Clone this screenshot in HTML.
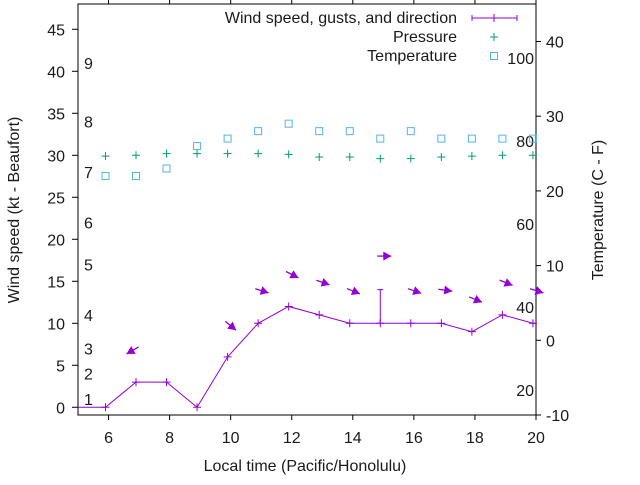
<!DOCTYPE html>
<html><head><meta charset="utf-8"><style>
body{margin:0;background:#fff}
svg text{font-family:"Liberation Sans",sans-serif;font-size:16px;fill:#1a1a1a}
</style></head><body>
<svg id="c" width="640" height="480" xmlns="http://www.w3.org/2000/svg"></svg>
<script>
const hours=[5.9,6.9,7.9,8.9,9.9,10.9,11.9,12.9,13.9,14.9,15.9,16.9,17.9,18.9,19.9];
const windKt=[0,3,3,0,6,10,12,11,10,10,10,10,9,11,10];
const gustKt=[null,null,null,null,null,null,null,null,null,14,null,null,null,null,null];
const windFrom=[null,60,null,null,309,287,297,289,292,270,289,278,292,292,287];
const pressure=[29.9,30.0,30.2,30.2,30.2,30.2,30.1,29.8,29.8,29.6,29.6,29.8,29.9,30.0,30.0];
const tempC=[22,22,23,26,27,28,29,28,28,27,28,27,27,27,27];
const xTicks=[6,8,10,12,14,16,18,20];
const yTicks=[0,5,10,15,20,25,30,35,40,45];
const y2Ticks=[-10,0,10,20,30,40];
const beaufortLabels=[1,2,3,4,5,6,7,8,9];
const beaufortKt=[1,4,7,11,17,22,28,34,41];
const fLabels=[20,40,60,80,100];

const L=78,R=536,T=4,B=415;
const X=h=>L+(h-5)/15*(R-L);
const Y=k=>B-(k+0.92)*8.4;
const Y2=c=>B-(c+10)*7.47;
const svg=document.getElementById('c');
const NS='http://www.w3.org/2000/svg';
function mk(tag,attrs,txt){const e=document.createElementNS(NS,tag);for(const k in attrs)e.setAttribute(k,attrs[k]);if(txt!==undefined)e.textContent=txt;svg.appendChild(e);return e;}

let e;
e=mk('rect',{x:L,y:T,width:R-L,height:B-T,fill:'none',stroke:'#000','stroke-width':1});

xTicks.forEach(t=>{
  e=mk('line',{x1:X(t),x2:X(t),y1:B,y2:B+5,stroke:'#000'});
  
  e=mk('line',{x1:X(t),x2:X(t),y1:T,y2:T-5,stroke:'#000'});
  
  e=mk('text',{x:X(t),y:443,'text-anchor':'middle'},t);
  
});
yTicks.forEach(t=>{
  e=mk('line',{x1:L-6,x2:L,y1:Y(t),y2:Y(t),stroke:'#000'});
  
  e=mk('text',{x:65,y:Y(t)+6,'text-anchor':'end'},t);
  
});
y2Ticks.forEach(t=>{
  e=mk('line',{x1:R,x2:R+5,y1:Y2(t),y2:Y2(t),stroke:'#000'});
  
  e=mk('text',{x:546,y:Y2(t)+6},t);
  
});
beaufortLabels.forEach((b,i)=>{
  e=mk('text',{x:84,y:Y(beaufortKt[i])+6},b);
  
});
fLabels.forEach(f=>{
  e=mk('text',{x:534,y:Y2((f-32)*5/9)+6,'text-anchor':'end'},f);
  
});
e=mk('text',{x:305,y:471,'text-anchor':'middle'},'Local time (Pacific/Honolulu)');

e=mk('text',{x:0,y:0,'text-anchor':'middle',transform:'translate(19,210) rotate(-90)'},'Wind speed (kt - Beaufort)');

e=mk('text',{x:0,y:0,'text-anchor':'middle',transform:'translate(603,210) rotate(-90)'},'Temperature (C - F)');


const P='#9400d3',G='#009e73',BL='#56b4e9';
let pts=[[L,Y(windKt[0])]].concat(hours.map((h,i)=>[X(h),Y(windKt[i])]));
pts.push([R,Y(windKt[windKt.length-1])]);
e=mk('polyline',{points:pts.map(p=>p.join(',')).join(' '),fill:'none',stroke:P,'stroke-width':1});

hours.forEach((h,i)=>{
  const x=X(h),y=Y(windKt[i]);
  e=mk('path',{d:`M${x-4},${y}H${x+4}M${x},${y-4}V${y+4}`,stroke:P,fill:'none'});
  
  if(gustKt[i]!==null){
    const yg=Y(gustKt[i]);
    e=mk('path',{d:`M${x},${y}V${yg}M${x-3},${yg}H${x+3}`,stroke:P,fill:'none'});
    
  }
  if(windFrom[i]!==null){
    const top=Math.max(windKt[i],gustKt[i]||0)+4;
    const b=(windFrom[i]+180)*Math.PI/180;
    const dx=Math.sin(b),dy=-Math.cos(b);
    const cx=x-3*dx,cy=Y(top)-3*dy,len=14;
    const ex=cx+dx*len,ey=cy+dy*len;
    const px=-dy,py=dx;
    e=mk('g',{});
    
    const l=document.createElementNS(NS,'line');
    l.setAttribute('x1',cx);l.setAttribute('y1',cy);l.setAttribute('x2',ex);l.setAttribute('y2',ey);l.setAttribute('stroke',P);l.setAttribute('stroke-width','1.3');
    e.appendChild(l);
    const hd=document.createElementNS(NS,'polygon');
    hd.setAttribute('points',`${ex},${ey} ${ex-dx*8+px*4.5},${ey-dy*8+py*4.5} ${ex-dx*8-px*4.5},${ey-dy*8-py*4.5}`);
    hd.setAttribute('fill',P);
    e.appendChild(hd);
  }
});
hours.forEach((h,i)=>{
  const x=X(h),y=Y(pressure[i]);
  e=mk('path',{d:`M${x-4},${y}H${x+4}M${x},${y-4}V${y+4}`,stroke:G,fill:'none'});
  
  const yt=Y2(tempC[i]);
  e=mk('rect',{x:x-3.5,y:yt-3.5,width:7,height:7,fill:'none',stroke:BL});
  
});
e=mk('text',{x:457,y:23,'text-anchor':'end'},'Wind speed, gusts, and direction');

e=mk('path',{d:'M472,18H517M472,15V21M517,15V21M494,14V22',stroke:P,fill:'none'});

e=mk('text',{x:457,y:42,'text-anchor':'end'},'Pressure');

e=mk('path',{d:'M490,37H498M494,33V41',stroke:G,fill:'none'});

e=mk('text',{x:457,y:61,'text-anchor':'end'},'Temperature');

e=mk('rect',{x:490.5,y:52.5,width:7,height:7,fill:'none',stroke:BL});

</script>
</body></html>
